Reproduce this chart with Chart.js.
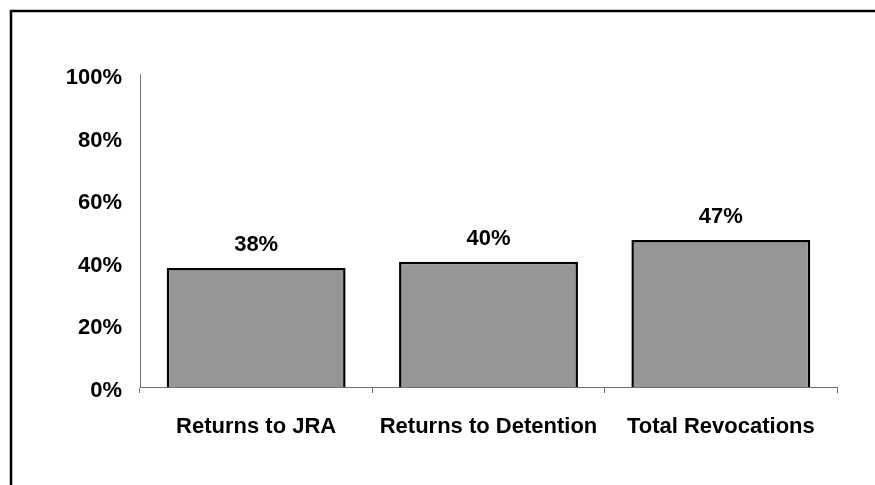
<!DOCTYPE html>
<html>
<head>
<meta charset="utf-8">
<script src="https://cdn.jsdelivr.net/npm/chart.js@4"></script>
<style>
  html, body { margin: 0; padding: 0; background: #fff; }
  #wrap { width: 875px; height: 485px; position: relative; }
</style>
</head>
<body>
<div id="wrap"><canvas id="revChart"></canvas></div>
<script>
// Chart data
const categories = ["Returns to JRA", "Returns to Detention", "Total Revocations"];
const rates = [38, 40, 47];
const yTicks = [0, 20, 40, 60, 80, 100];

const font = { family: "'Liberation Sans', Arial, sans-serif", size: 22, weight: "bold" };

// Outer frame (only top and left edge show in the window)
const framePlugin = {
    id: "frame",
    beforeDraw(chart) {
        const ctx = chart.ctx;
        ctx.save();
        ctx.strokeStyle = "#000";
        ctx.lineWidth = 2.5;
        ctx.beginPath();
        ctx.moveTo(11, chart.height + 5);
        ctx.lineTo(11, 11);
        ctx.lineTo(chart.width + 5, 11);
        ctx.stroke();
        ctx.restore();
    }
};

// Value labels above bars
const valueLabels = {
    id: "valueLabels",
    afterDatasetsDraw(chart) {
        const ctx = chart.ctx;
        const meta = chart.getDatasetMeta(0);
        ctx.save();
        ctx.font = `${font.weight} ${font.size}px ${font.family}`;
        ctx.fillStyle = "#000";
        ctx.textAlign = "center";
        ctx.textBaseline = "middle";
        meta.data.forEach((bar, i) => {
            ctx.fillText(rates[i] + "%", bar.x, bar.y - 23);
        });
        ctx.restore();
    }
};

new Chart(document.getElementById("revChart"), {
    type: "bar",
    data: {
        labels: categories,
        datasets: [{
            data: rates,
            backgroundColor: "#969696",
            borderColor: "#000",
            borderWidth: 2.5,
            barPercentage: 0.77,
            categoryPercentage: 1
        }]
    },
    options: {
        responsive: true,
        maintainAspectRatio: false,
        animation: false,
        layout: { padding: { left: 0, right: 38, top: 74, bottom: 0 } },
        plugins: {
            legend: { display: false },
            tooltip: { enabled: false }
        },
        scales: {
            x: {
                grid: {
                    offset: true,
                    drawOnChartArea: false,
                    drawTicks: true,
                    tickLength: 6,
                    color: "#707070"
                },
                border: { display: true, color: "#707070", width: 1 },
                ticks: { color: "#000", font: font, padding: 21, maxRotation: 0 },
                afterFit(scale) { scale.height = 98; }
            },
            y: {
                min: 0,
                max: 100,
                afterBuildTicks(scale) { scale.ticks = yTicks.map(v => ({ value: v })); },
                grid: { display: false, drawTicks: false },
                border: { display: true, color: "#707070", width: 1 },
                ticks: {
                    color: "#000",
                    font: font,
                    padding: 18,
                    labelOffset: 4,
                    callback: v => v + "%"
                },
                afterFit(scale) { scale.width = 140; }
            }
        }
    },
    plugins: [framePlugin, valueLabels]
});
</script>
</body>
</html>
